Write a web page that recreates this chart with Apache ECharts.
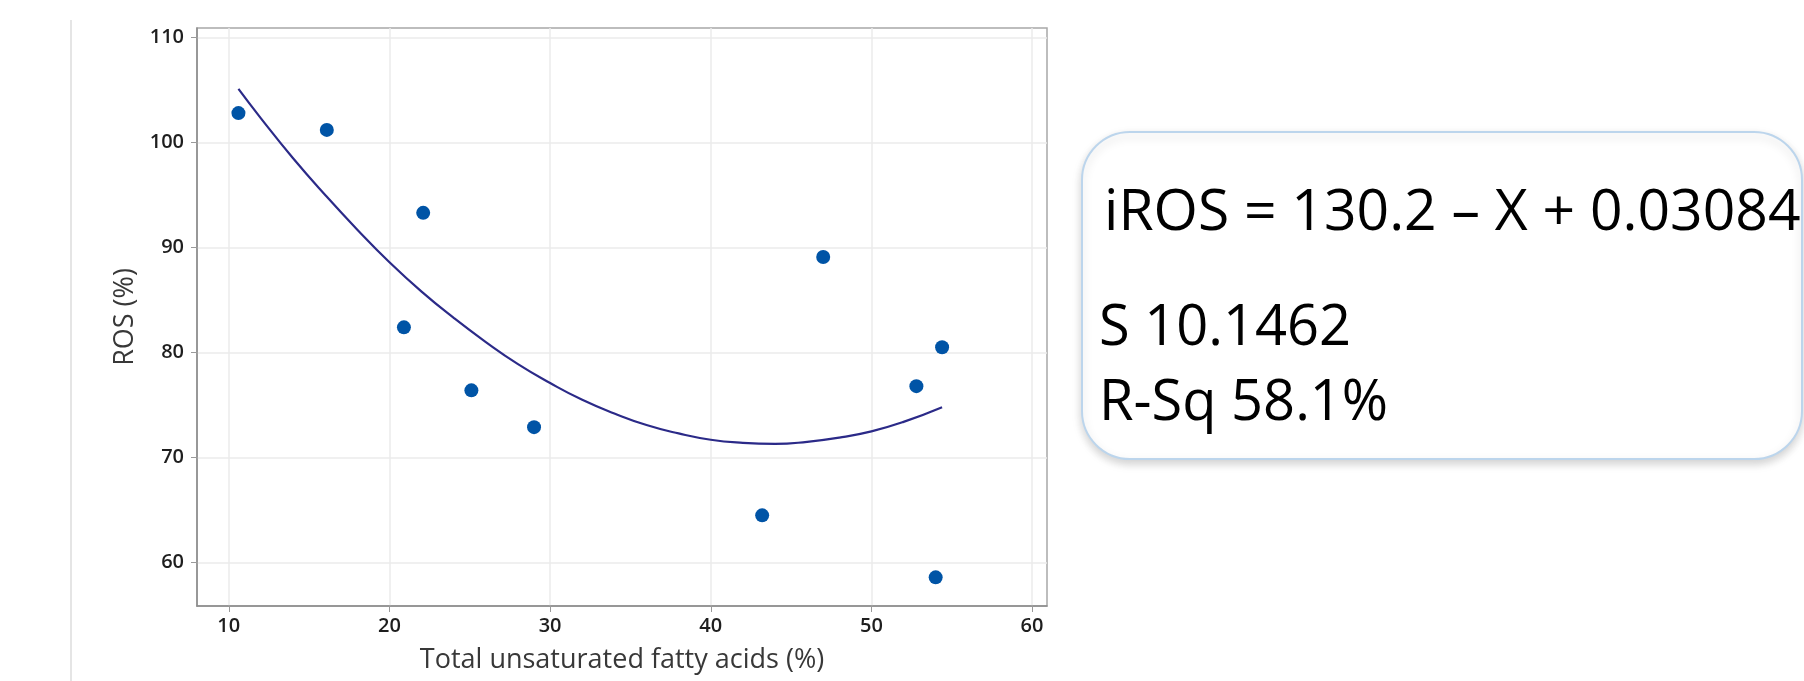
<!DOCTYPE html>
<html>
<head>
<meta charset="utf-8">
<title>ROS vs total unsaturated fatty acids</title>
<script src="https://cdn.jsdelivr.net/npm/echarts@6/dist/echarts.min.js"></script>
<style>
  html, body { margin: 0; padding: 0; background: #fff; }
  #chart { width: 1804px; height: 681px; }
</style>
</head>
<body>
<div id="chart"></div>
<script>
// observed points: total unsaturated fatty acids (%) vs ROS (%)
const fattyAcids = [10.6, 16.1, 22.1, 20.9, 25.1, 29.0, 47.0, 54.4, 52.8, 43.2, 54.0];
const rosValues = [102.8, 101.2, 93.3, 82.4, 76.4, 72.9, 89.1, 80.5, 76.8, 64.5, 58.6];

// fitted curve
const fitX = [10.6, 12, 14, 16, 18, 20, 22, 24, 26, 28, 30, 32, 34, 36, 38, 40, 42, 44, 46, 48, 50, 52, 54.4];
const fitY = [105.1, 102.3, 98.5, 95.0, 91.7, 88.6, 85.8, 83.3, 81.0, 78.9, 77.1, 75.5, 74.2, 73.1, 72.3, 71.7, 71.4, 71.3, 71.5, 71.9, 72.5, 73.4, 74.8];

// tick labels
const xTicks = [10, 20, 30, 40, 50, 60];
const yTicks = [60, 70, 80, 90, 100, 110];

// text box lines
const boxLines = ['iROS = 130.2 \u2013 X + 0.03084', 'S 10.1462', 'R-Sq 58.1%'];

const chart = echarts.init(document.getElementById('chart'));

const tickLabel = {
  fontFamily: 'Open Sans',
  fontSize: 20,
  fontWeight: 600,
  color: '#1e1e1e'
};

chart.setOption({
  animation: false,
  grid: {
    left: 197,
    top: 28,
    right: 757,
    bottom: 75,
    show: true,
    borderColor: '#a8a8a8',
    borderWidth: 1.5
  },
  xAxis: {
    type: 'value',
    min: 8.02,
    max: 60.93,
    name: 'Total unsaturated fatty acids (%)',
    nameLocation: 'middle',
    nameGap: 41,
    nameTextStyle: { fontFamily: 'Open Sans', fontSize: 27, color: '#383838' },
    axisLine: { lineStyle: { color: '#8c8c8c', width: 1.5 } },
    axisTick: { show: true, length: 6, customValues: xTicks, lineStyle: { color: '#9a9a9a' } },
    axisLabel: Object.assign({ customValues: xTicks, margin: 10 }, tickLabel),
    splitLine: { show: true, lineStyle: { color: '#ebebeb', width: 1.5 } }
  },
  yAxis: {
    type: 'value',
    min: 55.87,
    max: 110.9,
    name: 'ROS (%)',
    nameLocation: 'middle',
    nameGap: 58,
    nameTextStyle: { fontFamily: 'Open Sans', fontSize: 27, color: '#383838' },
    axisLine: { show: true, lineStyle: { color: '#8c8c8c', width: 1.5 } },
    axisTick: { show: true, length: 6, customValues: yTicks, lineStyle: { color: '#9a9a9a' } },
    axisLabel: Object.assign({ customValues: yTicks, margin: 13 }, tickLabel),
    splitLine: { show: true, lineStyle: { color: '#ebebeb', width: 1.5 } }
  },
  series: [
    {
      name: 'Fit',
      type: 'line',
      data: fitX.map((x, i) => [x, fitY[i]]),
      smooth: true,
      symbol: 'none',
      lineStyle: { color: '#2b2a88', width: 2.2 },
      z: 2
    },
    {
      name: 'ROS',
      type: 'scatter',
      data: fattyAcids.map((x, i) => [x, rosValues[i]]),
      symbolSize: 14,
      itemStyle: { color: '#0054a6', opacity: 1 },
      z: 3
    }
  ],
  graphic: [
    {
      type: 'line',
      shape: { x1: 71, y1: 20, x2: 71, y2: 681 },
      style: { stroke: '#dcdcdc', lineWidth: 1.5 }
    },
    {
      type: 'rect',
      shape: { x: 1082, y: 132, width: 720, height: 327, r: 48 },
      style: {
        fill: '#fff',
        stroke: '#bcd5ec',
        lineWidth: 2,
        shadowBlur: 10,
        shadowOffsetY: 4,
        shadowColor: 'rgba(0,0,0,0.18)'
      }
    },
    {
      type: 'text',
      x: 1104,
      y: 214,
      style: { text: boxLines[0], font: '57px "Open Sans"', fill: '#000', verticalAlign: 'middle' }
    },
    {
      type: 'text',
      x: 1099,
      y: 329,
      style: { text: boxLines[1], font: '56px "Open Sans"', fill: '#000', verticalAlign: 'middle' }
    },
    {
      type: 'text',
      x: 1099,
      y: 404,
      style: { text: boxLines[2], font: '56px "Open Sans"', fill: '#000', verticalAlign: 'middle' }
    }
  ]
});
</script>
</body>
</html>
